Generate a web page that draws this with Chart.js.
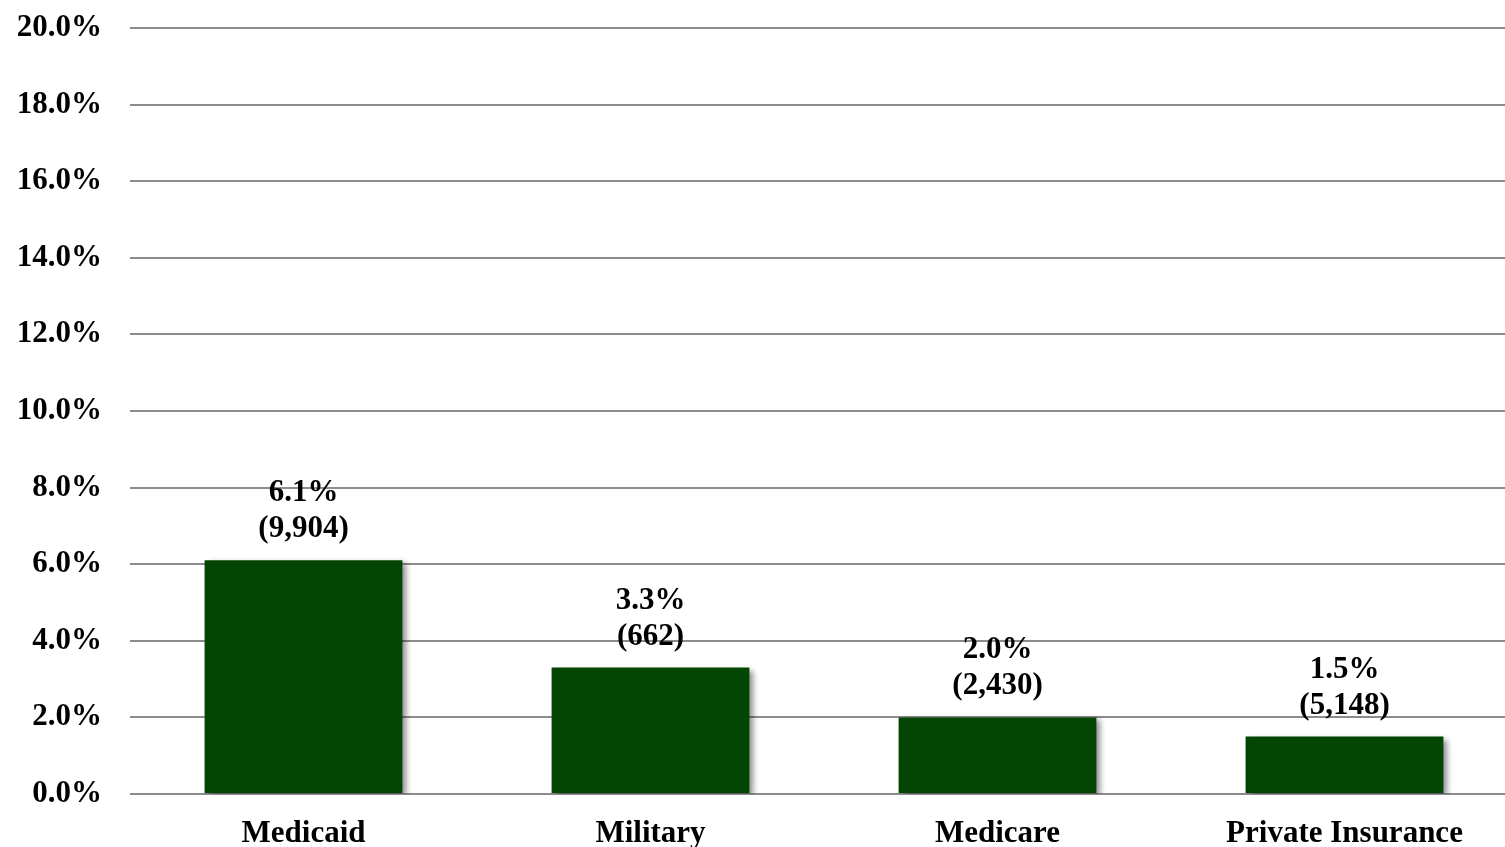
<!DOCTYPE html>
<html lang="en">
<head>
  <meta charset="UTF-8">
  <title>Rate by Payer</title>
  <script src="https://cdn.jsdelivr.net/npm/chart.js"></script>
  <style>
    html, body { margin: 0; padding: 0; background: #fff; overflow: hidden; }
    #wrap { width: 1518px; height: 847px; }
  </style>
</head>
<body>
  <div id="wrap"><canvas id="chart" width="1518" height="847"></canvas></div>

  <script>
    const categories = ['Medicaid', 'Military', 'Medicare', 'Private Insurance'];
    const rates = [6.1, 3.3, 2.0, 1.5];
    const counts = [9904, 662, 2430, 5148];
    const yTicks = [0, 2, 4, 6, 8, 10, 12, 14, 16, 18, 20];

    const FONT = '"Liberation Serif", "Times New Roman", serif';

    // grey drop shadow behind the bars
    const barShadow = {
      id: 'barShadow',
      beforeDatasetsDraw(chart) {
        const ctx = chart.ctx;
        ctx.save();
        ctx.shadowColor = 'rgba(0,0,0,0.45)';
        ctx.shadowBlur = 6;
        ctx.shadowOffsetX = 4;
        ctx.shadowOffsetY = 3;
      },
      afterDatasetsDraw(chart) {
        chart.ctx.restore();
      }
    };

    // two-line value labels above each bar
    const valueLabels = {
      id: 'valueLabels',
      afterDatasetsDraw(chart) {
        const ctx = chart.ctx;
        const meta = chart.getDatasetMeta(0);
        ctx.save();
        ctx.fillStyle = '#000';
        ctx.font = 'bold 31px ' + FONT;
        ctx.textAlign = 'center';
        ctx.textBaseline = 'middle';
        meta.data.forEach((bar, i) => {
          ctx.fillText(rates[i].toFixed(1) + '%', bar.x, bar.y - 67);
          ctx.fillText('(' + counts[i].toLocaleString('en-US') + ')', bar.x, bar.y - 31);
        });
        ctx.restore();
      }
    };

    new Chart(document.getElementById('chart'), {
      type: 'bar',
      data: {
        labels: categories,
        datasets: [{
          data: rates,
          backgroundColor: '#034603',
          categoryPercentage: 1,
          barPercentage: 0.57
        }]
      },
      options: {
        responsive: false,
        animation: false,
        layout: { padding: { top: 28, left: 0, right: 0, bottom: 0 } },
        plugins: {
          legend: { display: false },
          tooltip: { enabled: false }
        },
        scales: {
          x: {
            grid: { display: false, drawTicks: false },
            border: { display: false },
            afterFit: axis => { axis.height = 53; },
            ticks: {
              color: '#000',
              padding: 21,
              font: { family: FONT, size: 31, weight: 'bold' }
            }
          },
          y: {
            min: 0,
            max: 20,
            afterBuildTicks: axis => { axis.ticks = yTicks.map(v => ({ value: v })); },
            afterFit: axis => {
              axis.width = 130;
              axis.paddingTop = 0;
              axis.paddingBottom = 0;
            },
            grid: { color: '#8c8c8c', lineWidth: 2, drawTicks: false },
            border: { display: false },
            ticks: {
              color: '#000',
              padding: 28,
              font: { family: FONT, size: 31, weight: 'bold' },
              callback: v => v.toFixed(1) + '%'
            }
          }
        }
      },
      plugins: [barShadow, valueLabels]
    });
  </script>
</body>
</html>
